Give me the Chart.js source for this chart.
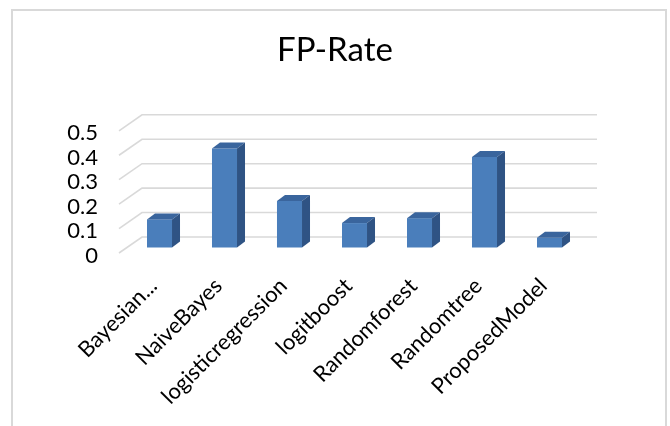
<!DOCTYPE html>
<html>
<head>
<meta charset="utf-8">
<script src="https://cdn.jsdelivr.net/npm/chart.js@4/dist/chart.umd.min.js"></script>
<style>
  html, body { margin: 0; padding: 0; background: #ffffff; }
  #wrap { width: 670px; height: 426px; position: relative; }
</style>
</head>
<body>
<div id="wrap"><canvas id="c" width="670" height="426"></canvas></div>
<script>
const categories = ['Bayesian...', 'NaiveBayes', 'logisticregression', 'logitboost', 'Randomforest', 'Randomtree', 'ProposedModel'];
const fpRate = [0.115, 0.405, 0.19, 0.10, 0.12, 0.37, 0.04];
const yTicks = [0, 0.1, 0.2, 0.3, 0.4, 0.5];

const WALL_DX = 23, WALL_DY = 16;   // back wall offset
const BAR_DX = 8, BAR_DY = 5.5;     // bar position within depth
const SIDE_DX = 8, SIDE_DY = 6;     // bar depth

const frame = {
  id: 'frame',
  beforeDraw(chart) {
    const ctx = chart.ctx;
    ctx.save();
    ctx.fillStyle = '#ffffff';
    ctx.fillRect(0, 0, chart.width, chart.height);
    ctx.strokeStyle = '#d9d9d9';
    ctx.lineWidth = 2;
    ctx.strokeRect(12, 10, 654, 600);
    ctx.restore();
  },
  beforeDatasetsDraw(chart) {
    const ctx = chart.ctx, a = chart.chartArea, ys = chart.scales.y;
    ctx.save();
    ctx.strokeStyle = '#d9d9d9';
    ctx.lineWidth = 1.6;
    yTicks.forEach(v => {
      const y = ys.getPixelForValue(v);
      ctx.beginPath();
      ctx.moveTo(a.left, y);
      ctx.lineTo(a.left + WALL_DX, y - WALL_DY);
      ctx.lineTo(a.right + WALL_DX, y - WALL_DY);
      ctx.stroke();
    });
    ctx.restore();
  },
  beforeDatasetDraw(chart) {
    chart.ctx.save();
    chart.ctx.translate(BAR_DX, -BAR_DY);
  },
  afterDatasetDraw(chart, args) {
    const ctx = chart.ctx;
    args.meta.data.forEach(bar => {
      const p = bar.getProps(['x', 'y', 'base', 'width'], true);
      const l = p.x - p.width / 2, r = p.x + p.width / 2;
      ctx.fillStyle = '#3a659d';
      ctx.beginPath();
      ctx.moveTo(l, p.y);
      ctx.lineTo(r, p.y);
      ctx.lineTo(r + SIDE_DX, p.y - SIDE_DY);
      ctx.lineTo(l + SIDE_DX, p.y - SIDE_DY);
      ctx.closePath();
      ctx.fill();
      ctx.fillStyle = '#2f5384';
      ctx.beginPath();
      ctx.moveTo(r, p.y);
      ctx.lineTo(r + SIDE_DX, p.y - SIDE_DY);
      ctx.lineTo(r + SIDE_DX, p.base - SIDE_DY);
      ctx.lineTo(r, p.base);
      ctx.closePath();
      ctx.fill();
    });
    ctx.restore();
  }
};

new Chart(document.getElementById('c'), {
  type: 'bar',
  data: {
    labels: categories,
    datasets: [{
      label: 'FP-Rate',
      data: fpRate,
      backgroundColor: '#4a7ebb',
      borderWidth: 0,
      barPercentage: 0.385,
      categoryPercentage: 1.0,
      clip: false
    }]
  },
  options: {
    responsive: false,
    animation: false,
    devicePixelRatio: 1,
    layout: { padding: 0 },
    plugins: {
      legend: { display: false },
      tooltip: { enabled: false },
      title: {
        display: true,
        text: 'FP-Rate',
        color: '#000000',
        font: { family: 'Lato', size: 33, weight: 'normal', lineHeight: 1.2 },
        padding: { top: 31, bottom: 60.2 }
      }
    },
    scales: {
      x: {
        grid: { display: false, drawTicks: false },
        border: { display: false },
        ticks: {
          autoSkip: false,
          minRotation: 45,
          maxRotation: 45,
          color: '#000000',
          padding: 20,
          labelOffset: 2,
          font: { family: 'Lato', size: 22 }
        },
        afterFit(s) { s.height = 173; }
      },
      y: {
        min: 0,
        max: 0.5,
        grid: { display: false, drawTicks: false },
        border: { display: false },
        ticks: {
          autoSkip: false,
          stepSize: 0.1,
          color: '#000000',
          padding: 21,
          labelOffset: 2.5,
          font: { family: 'Lato', size: 22 },
          callback: (v) => String(Math.round(v * 10) / 10)
        },
        afterFit(s) { s.width = 119; }
      },
      yr: {
        position: 'right',
        display: true,
        grid: { display: false, drawTicks: false },
        border: { display: false },
        ticks: { display: false },
        afterFit(s) { s.width = 96; }
      }
    }
  },
  plugins: [frame]
});
</script>
</body>
</html>
